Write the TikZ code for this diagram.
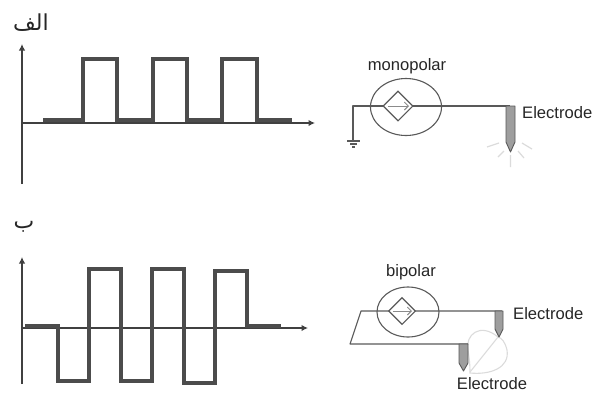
\documentclass[tikz,border=0pt]{standalone}
\usepackage{fontspec}
\setmainfont{Liberation Sans}
\newfontfamily\arabicfont[Script=Arabic]{DejaVu Sans}
\TeXXeTstate=1
\usetikzlibrary{shapes.geometric,arrows.meta}
\definecolor{wavec}{gray}{0.30}
\definecolor{axisc}{gray}{0.25}
\definecolor{wirec}{gray}{0.35}
\definecolor{tipc}{gray}{0.62}
\definecolor{glowc}{gray}{0.86}
\tikzset{
  wave/.style={draw=wavec,line width=4.6pt,line join=miter},
  axisline/.style={draw=axisc,line width=1.3pt,-{Latex[length=6.5pt,width=6.5pt]}},
  wire/.style={draw=wirec,line width=1.1pt,line join=round},
  thinarrow/.style={draw=wirec!70,line width=0.9pt,->,>={Straight Barb[length=4pt,width=8pt]}},
  bubble/.style={draw=wirec,line width=1.1pt,ellipse,inner sep=0pt,minimum width=#1},
  src/.style={draw=wirec,line width=1.1pt,diamond,aspect=1,inner sep=0pt,minimum size=#1,fill=white},
  tip/.style={draw=wirec,line width=0.9pt,fill=tipc,line join=round},
  glow/.style={draw=glowc,line width=1.2pt},
  lobe/.style={draw=glowc,line width=1.1pt},
  lab/.style={inner sep=0pt,text=black!85,font=\fontsize{16.6}{18}\selectfont},
  arlab/.style={inner sep=0pt,text=black!85,font=\arabicfont\fontsize{22}{24}\selectfont}
}
\begin{document}
\begin{tikzpicture}[x=1pt,y=-1pt]
\useasboundingbox (0,0) rectangle (598,392);

% Titles
\node[arlab] (ta) at (31,23) {\beginR الف\endR};
\node[arlab] (tb) at (24,227) {\beginR ب\endR};

% Top chart
\coordinate (a0) at (22,123);
\coordinate (ax) at (315,123);
\coordinate (ay) at (22,44);
\coordinate (ab) at (22,184);
\draw[axisline] (a0) -- (ax);
\draw[axisline] (ab) -- (ay);
\draw[wave] (43,120) -- (83,120) -- (83,59) -- (117,59) -- (117,120) -- (153,120) -- (153,59) -- (187,59) -- (187,120) -- (222,120) -- (222,59) -- (257,59) -- (257,120) -- (292,120);

% Bottom chart
\coordinate (b0) at (22,328);
\coordinate (bx) at (308,328);
\coordinate (by) at (22,257);
\coordinate (bb) at (22,384);
\draw[axisline] (b0) -- (bx);
\draw[axisline] (bb) -- (by);
\draw[wave] (25,326) -- (58,326) -- (58,381) -- (89,381) -- (89,269) -- (121,269) -- (121,381) -- (152,381) -- (152,269) -- (184,269) -- (184,383) -- (215,383) -- (215,271) -- (247,271) -- (247,326) -- (281,326);

% Monopolar circuit
\node[lab] (mono) at (407,66) {monopolar};
\coordinate (mg) at (353,106);
\coordinate (mgb) at (353,140);
\coordinate (me) at (510,106);
\draw[wire] (mgb) -- (mg) -- (me);
\node[bubble=71pt,minimum height=57pt] (mb) at (406,107) {};
\node[src=30pt] (ms) at (398,106) {};
\draw[thinarrow] (ms.west) ++(6,0) -- (409,106);
\draw[wire] (347,141) -- (360,141) (350,144) -- (357,144) (352,147) -- (355,147);
\draw[tip] (506,106) -- (515,106) -- (515,142) -- (510.5,152) -- (506,142) -- cycle;
\node[lab,anchor=west] (mel) at (522,113) {Electrode};
\draw[glow] (487,147) -- (499,143) (522,143) -- (532,149) (498,157) -- (504,151) (518,151) -- (524,158) (510.5,155) -- (510.5,167);

% Bipolar circuit
\node[lab] (bip) at (411,272) {bipolar};
\draw[lobe] (498,337) .. controls (480,322) and (465,335) .. (468,350) .. controls (470,362) and (470,370) .. (470,373)
            .. controls (490,375) and (510,368) .. (507,350) .. controls (505,342) and (502,338) .. (498,337);
\draw[lobe] (470,372) -- (498,337);
\coordinate (w1) at (502,311);
\coordinate (w2) at (361,311);
\coordinate (w3) at (350,344);
\coordinate (w4) at (468,344);
\draw[wire] (w1) -- (w2) -- (w3) -- (w4);
\node[bubble=62pt,minimum height=50pt] (bbl) at (408,312) {};
\node[src=27pt] (bs) at (402,311) {};
\draw[thinarrow] (bs.west) ++(5,0) -- (412,311);
\draw[tip] (495,311) -- (503,311) -- (503,329) -- (499,337) -- (495,329) -- cycle;
\draw[tip] (459,344) -- (468,344) -- (468,363) -- (463.5,371) -- (459,363) -- cycle;
\node[lab,anchor=west] (bel1) at (513,314) {Electrode};
\node[lab] (bel2) at (492,384) {Electrode};
\end{tikzpicture}
\end{document}
